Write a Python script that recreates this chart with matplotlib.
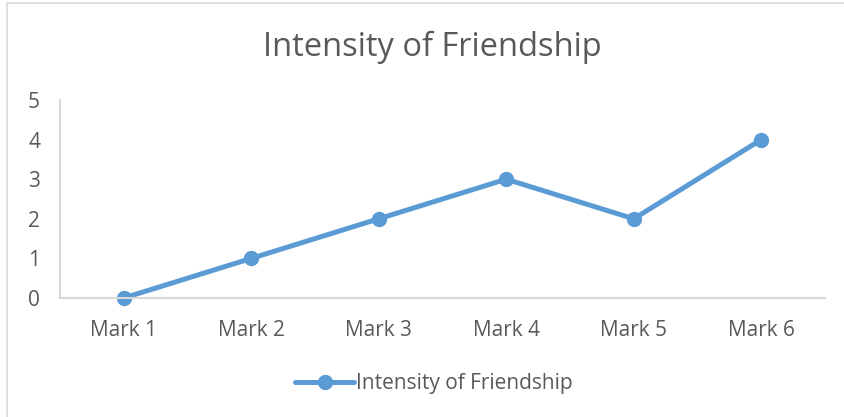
import matplotlib.pyplot as plt
from matplotlib.patches import Rectangle

plt.rcParams['font.family'] = ['Open Sans', 'DejaVu Sans']

categories = ['Mark 1', 'Mark 2', 'Mark 3', 'Mark 4', 'Mark 5', 'Mark 6']
values = [0, 1, 2, 3, 2, 4]
series_name = 'Intensity of Friendship'

blue = '#5B9BD5'
text_gray = '#595959'
axis_gray = '#D9D9D9'

fig = plt.figure(figsize=(8.44, 4.17), dpi=100)
ax = fig.add_axes([60 / 844, 1 - 298 / 417, 765 / 844, 198 / 417])

x = range(len(categories))
ax.plot(x, values, color=blue, linewidth=3.6, marker='o', markersize=10,
        label=series_name, solid_capstyle='round', clip_on=False)

ax.set_xlim(-0.5, len(categories) - 0.5)
ax.set_ylim(0, 5)
ax.set_xticks(list(x))
ax.set_xticklabels(categories)
ax.set_yticks(range(6))
ax.tick_params(axis='both', length=0, labelsize=15, colors=text_gray)
ax.tick_params(axis='x', pad=16)
ax.tick_params(axis='y', pad=23)
for lbl in ax.get_yticklabels():
    lbl.set_horizontalalignment('left')

for s in ['top', 'right']:
    ax.spines[s].set_visible(False)
for s in ['left', 'bottom']:
    ax.spines[s].set_color(axis_gray)
    ax.spines[s].set_linewidth(1.5)

fig.text(432 / 844, 1 - 47 / 417, 'Intensity of Friendship', ha='center', va='center',
         fontsize=23.5, color=text_gray)

fig.legend(loc='center', bbox_to_anchor=(434 / 844, 1 - 384 / 417), frameon=False,
           fontsize=15, labelcolor=text_gray, handlelength=2.8, handletextpad=0.1)

fig.patches.append(Rectangle((7 / 844, -0.1), 2, 1.1 - 3 / 417, transform=fig.transFigure,
                             fill=False, edgecolor=axis_gray, linewidth=1.2))

fig.savefig('out.png', dpi=100)
